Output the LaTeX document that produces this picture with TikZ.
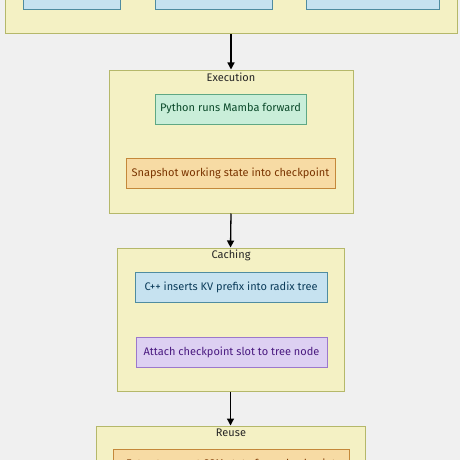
\documentclass[tikz,border=0pt]{standalone}
\usepackage{fontspec}
\setmainfont{Fira Sans}
\usetikzlibrary{arrows.meta}
\definecolor{bgc}{HTML}{F0F0F0}
\definecolor{contfill}{HTML}{F4F1C4}
\definecolor{contdraw}{HTML}{B5B86A}
\definecolor{bluefill}{HTML}{C6E2F0}
\definecolor{bluedraw}{HTML}{4F8CA0}
\definecolor{bluetext}{HTML}{0B3C5A}
\definecolor{greenfill}{HTML}{C9EED9}
\definecolor{greendraw}{HTML}{5FA884}
\definecolor{greentext}{HTML}{0B4A2A}
\definecolor{orangefill}{HTML}{F7DBA4}
\definecolor{orangedraw}{HTML}{C4883A}
\definecolor{orangetext}{HTML}{7A3400}
\definecolor{purplefill}{HTML}{DDD0F2}
\definecolor{purpledraw}{HTML}{9C78CC}
\definecolor{purpletext}{HTML}{4A1A80}
\tikzset{
  x=1pt,y=-1pt,
  every node/.style={font=\fontsize{11}{13}\selectfont, inner sep=0pt},
  container/.style={draw=contdraw, fill=contfill, line width=1pt, rectangle},
  box/.style={rectangle, line width=1pt, minimum height=30pt},
  bluebox/.style={box, draw=bluedraw, fill=bluefill, text=bluetext},
  greenbox/.style={box, draw=greendraw, fill=greenfill, text=greentext},
  orangebox/.style={box, draw=orangedraw, fill=orangefill, text=orangetext},
  purplebox/.style={box, draw=purpledraw, fill=purplefill, text=purpletext},
  title/.style={text=black!85},
  arr/.style={draw=black, line width=1.3pt, -{Triangle[length=7pt,width=7pt]}}
}
\begin{document}
\begin{tikzpicture}
\useasboundingbox (0,0) rectangle (460,460);
\clip (0,0) rectangle (460,460);
\fill[bgc] (0,0) rectangle (460,460);
% top group
\node[container, minimum width=452pt, minimum height=74pt] (topc) at (231,-3) {};
\node[bluebox, minimum width=97pt] (t1) at (71.5,-5) {};
\node[bluebox, minimum width=117pt] (t2) at (213.5,-5) {};
\node[bluebox, minimum width=133pt] (t3) at (372.5,-5) {};
% execution
\node[container, minimum width=244pt, minimum height=143pt] (exec) at (231,141.5) {};
\node[title] (exect) at (231,77) {Execution};
\node[greenbox, minimum width=151pt] (py) at (230.5,109) {Python runs Mamba forward};
\node[orangebox, minimum width=209pt] (snap) at (230.5,173) {Snapshot working state into checkpoint};
% caching
\node[container, minimum width=227pt, minimum height=143pt] (cach) at (230.5,319.5) {};
\node[title] (cacht) at (231,255) {Caching};
\node[bluebox, minimum width=192pt] (kv) at (231,287) {C++ inserts KV prefix into radix tree};
\node[purplebox, minimum width=191pt] (att) at (231.5,352) {Attach checkpoint slot to tree node};
% reuse
\node[container, minimum width=269pt, minimum height=148pt] (reuse) at (230.5,500) {};
\node[title] (reuset) at (231,433) {Reuse};
\node[orangebox, minimum width=236pt] (ext) at (231,464) {Extract nearest SSM state from checkpoint};
% arrows
\draw[arr] (topc.south) -- (exec.north);
\draw[arr] (exec.south) -- (cach.north);
\draw[arr] (cach.south) -- (reuse.north);
\end{tikzpicture}
\end{document}
